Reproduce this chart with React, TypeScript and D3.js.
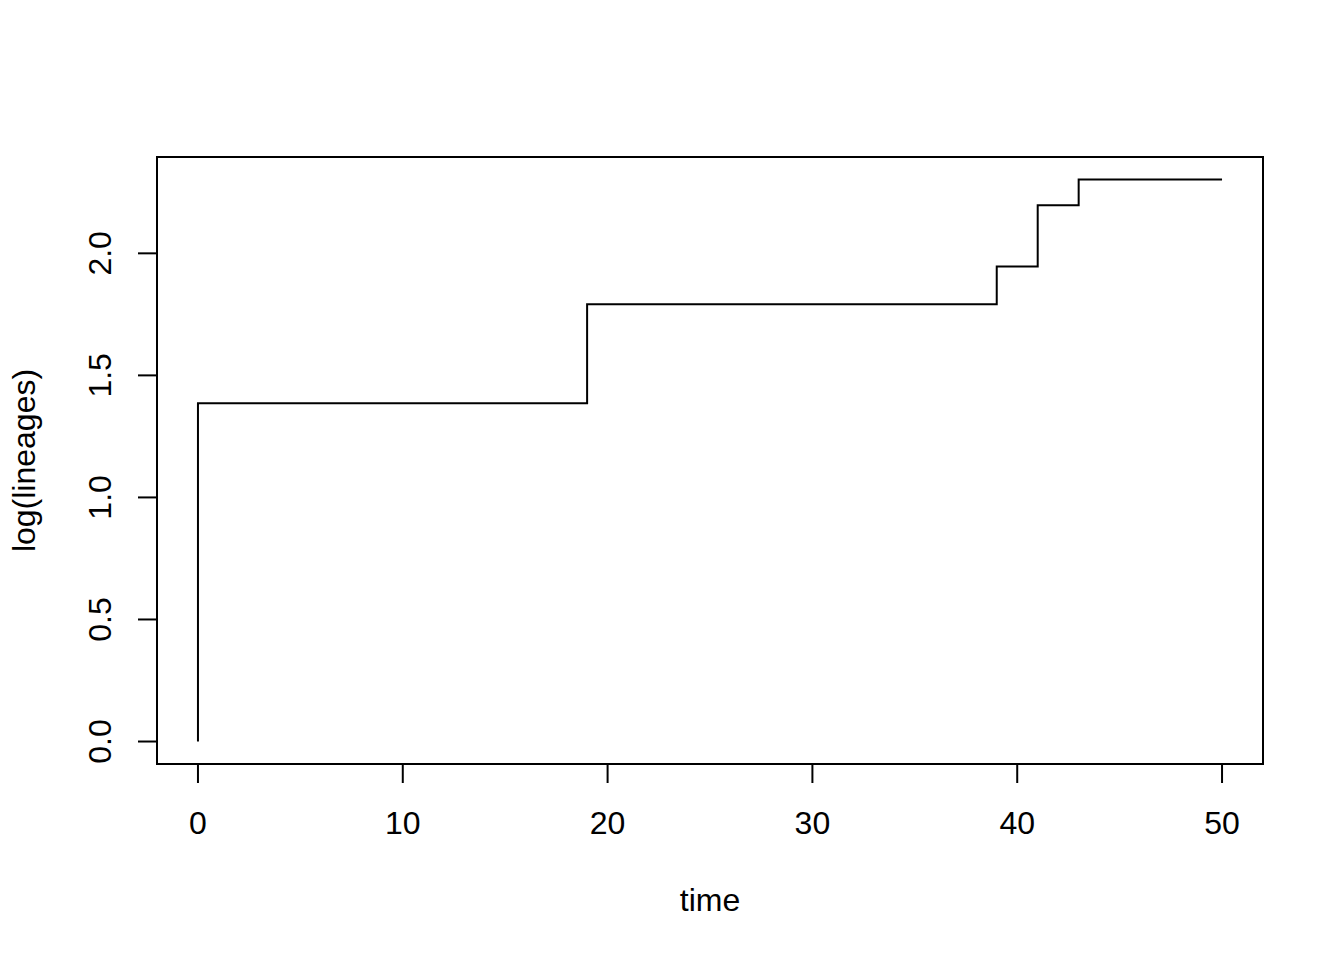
import React from "react";
import * as d3 from "d3";

const times = [0, 0, 19, 39, 41, 43, 50];
const lineages = [1, 4, 6, 7, 9, 10, 10];
const xTicks = [0, 10, 20, 30, 40, 50];
const yTicks = [0, 0.5, 1.0, 1.5, 2.0];
const xLabel = "time";
const yLabel = "log(lineages)";

export default function App() {
  const W = 1344, H = 960;
  const left = 157, right = 1263, top = 157, bottom = 764;
  const yVals = lineages.map((l) => Math.log(l));
  const xMin = d3.min(times)!, xMax = d3.max(times)!;
  const yMin = d3.min(yVals)!, yMax = d3.max(yVals)!;
  const xPad = (xMax - xMin) * 0.04, yPad = (yMax - yMin) * 0.04;
  const x = d3.scaleLinear().domain([xMin - xPad, xMax + xPad]).range([left, right]);
  const y = d3.scaleLinear().domain([yMin - yPad, yMax + yPad]).range([bottom, top]);
  const pts = times.map((t, i) => [t, yVals[i]] as [number, number]);
  const line = d3.line<[number, number]>().x((d) => x(d[0])).y((d) => y(d[1])).curve(d3.curveStepAfter);
  const font = "'Liberation Sans', Arial, sans-serif";
  const tick = 19;
  return (
    <svg width={W} height={H} style={{ position: "absolute", left: 0, top: 0, background: "#fff" }} fontFamily={font}>
      <rect x={0} y={0} width={W} height={H} fill="#fff" />
      <rect x={left} y={top} width={right - left} height={bottom - top} fill="none" stroke="#000" strokeWidth={2} />
      <path d={line(pts) || ""} fill="none" stroke="#000" strokeWidth={2} />
      {xTicks.map((t) => (
        <g key={"x" + t}>
          <line x1={x(t)} x2={x(t)} y1={bottom} y2={bottom + tick} stroke="#000" strokeWidth={2} />
          <text x={x(t)} y={834} fontSize={32} textAnchor="middle">{t}</text>
        </g>
      ))}
      {yTicks.map((t) => (
        <g key={"y" + t}>
          <line x1={left} x2={left - tick} y1={y(t)} y2={y(t)} stroke="#000" strokeWidth={2} />
          <text transform={`translate(111,${y(t)}) rotate(-90)`} fontSize={32} textAnchor="middle">{t.toFixed(1)}</text>
        </g>
      ))}
      <text x={(left + right) / 2} y={911} fontSize={32} textAnchor="middle">{xLabel}</text>
      <text transform={`translate(35,${(top + bottom) / 2}) rotate(-90)`} fontSize={32} textAnchor="middle">{yLabel}</text>
    </svg>
  );
}
